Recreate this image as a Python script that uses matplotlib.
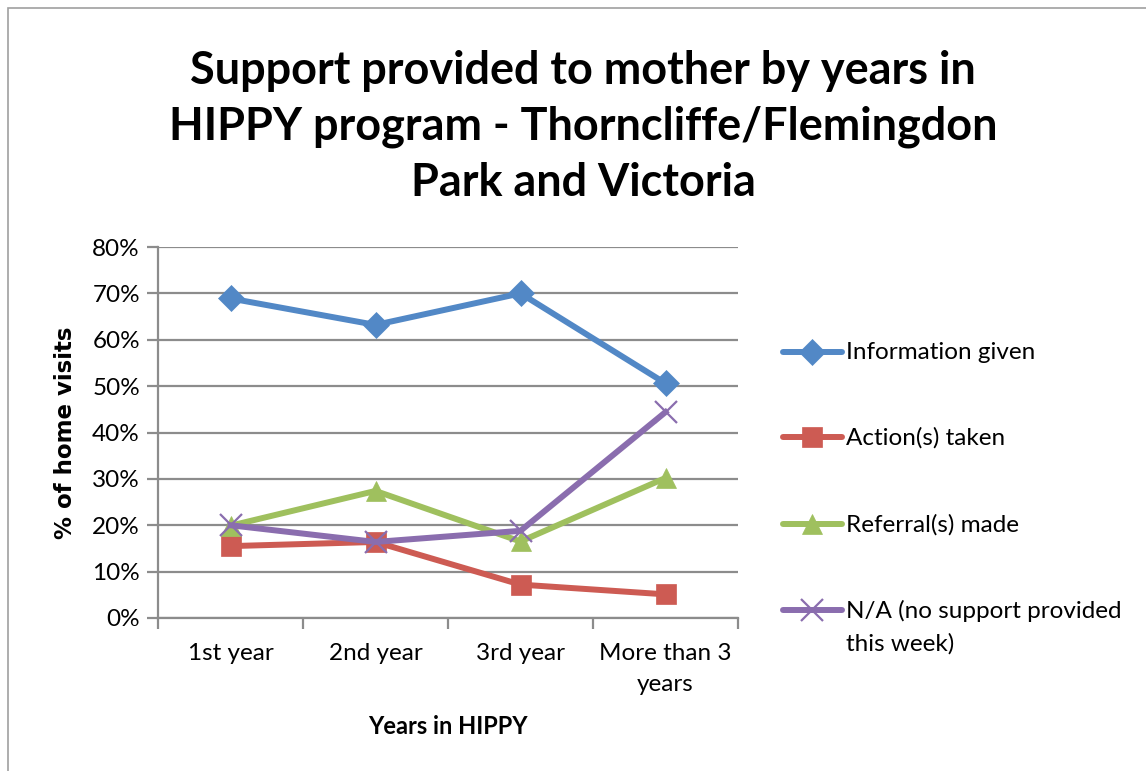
import matplotlib.pyplot as plt
from matplotlib.lines import Line2D
from matplotlib.ticker import FixedLocator, FuncFormatter

# data
years = ['1st year', '2nd year', '3rd year', 'More than 3\nyears']
info_given = [68.9, 63.2, 70.0, 50.6]
actions_taken = [15.5, 16.4, 7.2, 5.1]
referrals_made = [19.9, 27.4, 16.5, 30.2]
no_support = [20.0, 16.4, 18.8, 44.4]

series_names = ['Information given', 'Action(s) taken', 'Referral(s) made',
                'N/A (no support provided\nthis week)']
colors = ['#5288C6', '#CD5B53', '#9FC05E', '#8A6DAE']
markers = ['D', 's', '^', 'x']
marker_sizes = [13, 15, 15, 16]

plt.rcParams['font.family'] = ['Lato', 'DejaVu Sans']

W, H = 1146, 771
fig = plt.figure(figsize=(W / 100, H / 100), dpi=100)
ax = fig.add_axes([158 / W, 1 - 618 / H, 580 / W, 371 / H])

# chart border (cut off at right and bottom in the reference)
fig.add_artist(plt.Rectangle((8 / W, -0.05), 1.05, 1.05 - 8 / H,
                             transform=fig.transFigure, fill=False,
                             edgecolor='#a0a0a0', linewidth=1.2))

x = range(len(years))
all_series = [info_given, actions_taken, referrals_made, no_support]
for vals, c, m, ms in zip(all_series, colors, markers, marker_sizes):
    ax.plot(x, vals, color=c, linewidth=4.3, marker=m, markersize=ms,
            markeredgewidth=1.6 if m == 'x' else 0.5, markeredgecolor=c,
            solid_joinstyle='round')

ax.set_xlim(-0.5, 3.5)
ax.set_ylim(0, 80)
ax.yaxis.set_major_locator(FixedLocator(range(0, 81, 10)))
ax.yaxis.set_major_formatter(FuncFormatter(lambda v, p: f'{v:.0f}%'))
ax.grid(axis='y', color='#8c8c8c', linewidth=1.6)
ax.set_axisbelow(True)

ax.xaxis.set_major_locator(FixedLocator([-0.5, 0.5, 1.5, 2.5, 3.5]))
ax.xaxis.set_minor_locator(FixedLocator(list(x)))
ax.set_xticklabels([''] * 5)
ax.set_xticklabels(years, minor=True, linespacing=1.6, va='top')
ax.tick_params(axis='x', which='major', length=8, width=1.6, color='#8c8c8c')
ax.tick_params(axis='x', which='minor', length=0, pad=18, labelsize=17.5)
ax.tick_params(axis='y', length=8, width=1.6, color='#8c8c8c', labelsize=17.5, pad=5)

for s in ['top', 'right']:
    ax.spines[s].set_visible(False)
for s in ['left', 'bottom']:
    ax.spines[s].set_color('#8c8c8c')
    ax.spines[s].set_linewidth(1.6)

fig.text(65 / W, 1 - 433 / H, '% of home visits', rotation=90, ha='center', va='center',
         fontsize=16.5, fontweight='bold', family='DejaVu Sans')
fig.text(448 / W, 1 - 727 / H, 'Years in HIPPY', ha='center', va='center',
         fontsize=17, fontweight='bold')

fig.text(583 / W, 1 - 127 / H,
         'Support provided to mother by years in\nHIPPY program - Thorncliffe/Flemingdon\nPark and Victoria',
         ha='center', va='center', fontsize=32.4, fontweight='bold', linespacing=1.39)

# legend drawn entry by entry so the two-line label keeps its handle on line one
legend_rows = [352, 437, 524, 610]
for name, c, m, ms, row in zip(series_names, colors, markers, marker_sizes, legend_rows):
    yf = 1 - row / H
    fig.add_artist(Line2D([783 / W, 842 / W], [yf, yf], transform=fig.transFigure,
                          color=c, linewidth=4.3, solid_capstyle='round'))
    fig.add_artist(Line2D([812.5 / W], [yf], transform=fig.transFigure, color=c,
                          marker=m, markersize=ms, markeredgecolor=c,
                          markeredgewidth=1.6 if m == 'x' else 0.5, linestyle='none'))
    fig.text(846 / W, yf + 10 / H, name, ha='left', va='top', fontsize=17.5,
             linespacing=1.6)

fig.savefig('out.png', dpi=100)
